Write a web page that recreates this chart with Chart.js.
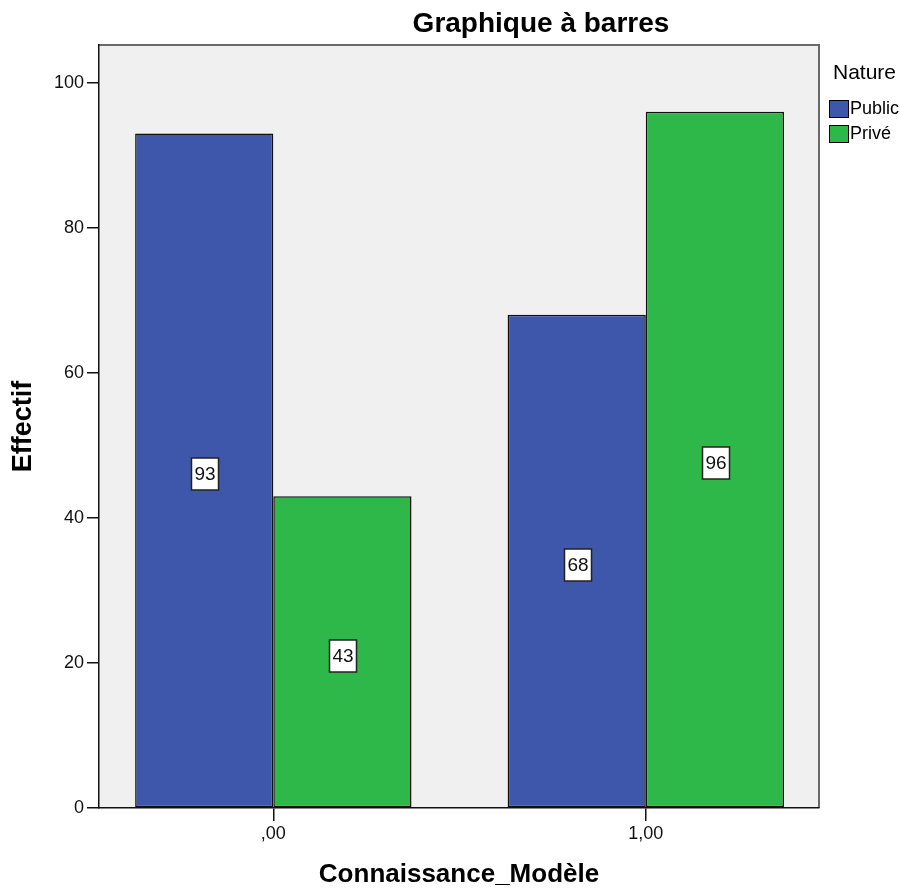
<!DOCTYPE html>
<html>
<head>
<meta charset="utf-8">
<script src="https://cdn.jsdelivr.net/npm/chart.js@4.4.1/dist/chart.umd.min.js"></script>
<style>
html,body{margin:0;padding:0;background:#fff;}
#wrap{position:relative;width:900px;height:892px;}
</style>
</head>
<body>
<div id="wrap"><canvas id="c" width="900" height="892"></canvas></div>
<script>
// ---- data ----
const chartTitle = 'Graphique à barres';
const categories = [',00', '1,00'];
const seriesNames = ['Public', 'Privé'];
const publicValues = [93, 68];
const priveValues = [43, 96];
const yTicks = [0, 20, 40, 60, 80, 100];
const legendTitle = 'Nature';
const xTitle = 'Connaissance_Modèle';
const yTitle = 'Effectif';

const colors = ['#3e57aa', '#2eb84a'];
const FONT = '"Liberation Sans", Arial, sans-serif';

const bgPlugin = {
  id: 'bg',
  beforeDraw(chart) {
    const {ctx, chartArea: a} = chart;
    ctx.save();
    ctx.fillStyle = '#f0f0f0';
    ctx.fillRect(a.left, a.top, a.right - a.left, a.bottom - a.top);
    ctx.strokeStyle = '#6a6a6a';
    ctx.lineWidth = 2;
    ctx.beginPath();
    ctx.moveTo(a.left, a.top);
    ctx.lineTo(a.right, a.top);
    ctx.lineTo(a.right, a.bottom);
    ctx.stroke();
    ctx.restore();
  }
};

const titlePlugin = {
  id: 'customTitle',
  afterDraw(chart) {
    const {ctx} = chart;
    ctx.save();
    ctx.fillStyle = '#000';
    ctx.font = 'bold 28px ' + FONT;
    ctx.textAlign = 'center';
    ctx.textBaseline = 'alphabetic';
    ctx.fillText(chartTitle, 541, 32);
    // legend
    ctx.textAlign = 'left';
    ctx.font = '21px ' + FONT;
    ctx.fillText(legendTitle, 833, 79);
    ctx.font = '18px ' + FONT;
    chart.data.datasets.forEach((ds, i) => {
      const y = 100 + i * 25;
      ctx.fillStyle = ds.backgroundColor;
      ctx.fillRect(829, y, 19, 17);
      ctx.strokeStyle = '#000';
      ctx.lineWidth = 1;
      ctx.strokeRect(829.5, y + 0.5, 19, 17);
      ctx.fillStyle = '#000';
      ctx.textBaseline = 'middle';
      ctx.fillText(ds.label, 850, y + 9);
    });
    ctx.restore();
  }
};

const labelPlugin = {
  id: 'valueLabels',
  afterDatasetsDraw(chart) {
    const {ctx} = chart;
    ctx.save();
    ctx.font = '19px ' + FONT;
    ctx.textAlign = 'center';
    ctx.textBaseline = 'middle';
    chart.data.datasets.forEach((ds, di) => {
      const meta = chart.getDatasetMeta(di);
      meta.data.forEach((el, i) => {
        const p = el.getProps(['x', 'y', 'base'], true);
        const cx = Math.round(p.x) + 1;
        const cy = Math.round((p.y + p.base) / 2) + 4;
        const w = 27, h = 32;
        ctx.fillStyle = '#fff';
        ctx.fillRect(cx - w / 2, cy - h / 2, w, h);
        ctx.strokeStyle = '#222';
        ctx.lineWidth = 1.5;
        ctx.strokeRect(cx - w / 2, cy - h / 2, w, h);
        ctx.fillStyle = '#111';
        ctx.fillText(String(ds.data[i].y), cx, cy + 1);
      });
    });
    ctx.restore();
  }
};

const datasets = [publicValues, priveValues].map((vals, s) => ({
  label: seriesNames[s],
  data: vals.map((v, i) => ({x: i, y: v})),
  backgroundColor: colors[s],
  borderColor: '#111',
  borderWidth: 1.5,
  borderSkipped: false,
  categoryPercentage: 0.742,
  barPercentage: 1.0
}));

new Chart(document.getElementById('c'), {
  type: 'bar',
  data: {datasets},
  plugins: [bgPlugin, labelPlugin, titlePlugin],
  options: {
    responsive: false,
    animation: false,
    devicePixelRatio: 1,
    layout: {padding: {top: 45, right: 81, left: 0, bottom: 0}},
    plugins: {legend: {display: false}, tooltip: {enabled: false}, title: {display: false}},
    scales: {
      x: {
        type: 'linear',
        min: -0.468,
        max: 1.465,
        offset: false,
        afterBuildTicks(s) { s.ticks = categories.map((c, i) => ({value: i})); },
        afterFit(s) { s.height = 84; },
        ticks: {
          callback: (v) => categories[v] ?? '',
          color: '#111',
          font: {family: FONT, size: 18},
          padding: 2,
          maxRotation: 0,
          autoSkip: false
        },
        grid: {offset: false, drawOnChartArea: false, tickLength: 13, color: '#111', lineWidth: 1.5},
        border: {display: true, color: '#111', width: 1.5},
        title: {display: true, text: xTitle, color: '#000', font: {family: FONT, size: 26, weight: 'bold'}, padding: {top: 0, bottom: 2}}
      },
      y: {
        min: 0,
        max: 105.2,
        afterBuildTicks(s) { s.ticks = yTicks.map(v => ({value: v})); },
        afterFit(s) { s.width = 99; },
        ticks: {color: '#111', font: {family: FONT, size: 18}, padding: 3},
        grid: {drawOnChartArea: false, tickLength: 12, color: '#111', lineWidth: 1.5},
        border: {display: true, color: '#111', width: 1.5},
        title: {display: true, text: yTitle, color: '#000', font: {family: FONT, size: 27, weight: 'bold'}, padding: {top: 7, bottom: 0}}
      }
    }
  }
});
</script>
</body>
</html>
